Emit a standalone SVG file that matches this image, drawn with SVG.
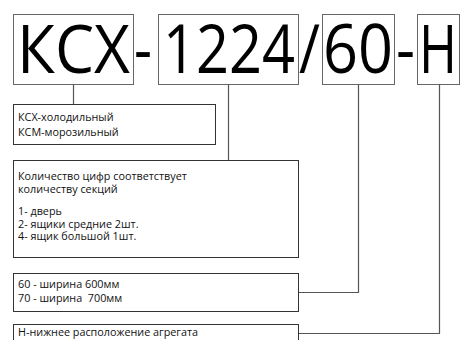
<svg xmlns="http://www.w3.org/2000/svg" width="461" height="340" viewBox="0 0 461 340">
<style>
.box{fill:none;stroke:#333;stroke-width:1}
.tbox{fill:none;stroke:#666;stroke-width:1}
.big{font-family:"Open Sans","Liberation Sans",sans-serif;font-size:67px;fill:#000}
.sm{font-family:"Open Sans","Liberation Sans",sans-serif;font-size:10.8px;fill:#111;white-space:pre}
.con{fill:none;stroke:#555;stroke-width:1.2}
</style>
<rect width="461" height="340" fill="#fff"/>
<g id="code-ksx">
<rect class="tbox" x="13.5" y="14.5" width="120" height="70"/>
<text class="big" x="17" y="73" textLength="113" lengthAdjust="spacingAndGlyphs">КСХ</text>
</g>
<g id="code-1224">
<rect class="tbox" x="158.5" y="14.5" width="140" height="70"/>
<text class="big" x="163" y="73" textLength="132" lengthAdjust="spacingAndGlyphs">1224</text>
</g>
<g id="code-60">
<rect class="tbox" x="322.5" y="14.5" width="72" height="70"/>
<text class="big" x="323" y="73" textLength="70" lengthAdjust="spacingAndGlyphs">60</text>
</g>
<g id="code-h">
<rect class="tbox" x="417.5" y="14.5" width="42" height="70"/>
<text class="big" x="419" y="73" textLength="38" lengthAdjust="spacingAndGlyphs">Н</text>
</g>
<g id="separators">
<text class="big" x="134" y="73" textLength="18" lengthAdjust="spacingAndGlyphs">-</text>
<text class="big" x="299" y="73" textLength="21" lengthAdjust="spacingAndGlyphs">/</text>
<text class="big" x="396" y="73" textLength="19" lengthAdjust="spacingAndGlyphs">-</text>
</g>
<g id="connectors">
<path class="con" d="M73.5 84.5V104.5"/>
<path class="con" d="M228.5 84.5V160.5"/>
<path class="con" d="M358.5 84.5V292.5H298.5"/>
<path class="con" d="M439.5 84.5V333.5H298.5"/>
</g>
<g id="desc-type">
<rect class="box" x="13.5" y="104.5" width="202" height="40"/>
<text class="sm" x="18" y="121">КСХ-холодильный</text>
<text class="sm" x="18" y="136">КСМ-морозильный</text>
</g>
<g id="desc-sections">
<rect class="box" x="13.5" y="160.5" width="285" height="97"/>
<text class="sm" x="18" y="180">Количество цифр соответствует</text>
<text class="sm" x="18" y="193">количеству секций</text>
<text class="sm" x="18" y="215">1- дверь</text>
<text class="sm" x="18" y="227.5">2- ящики средние 2шт.</text>
<text class="sm" x="18" y="240">4- ящик большой 1шт.</text>
</g>
<g id="desc-width">
<rect class="box" x="13.5" y="273.5" width="285" height="38"/>
<text class="sm" x="18" y="288">60 - ширина 600мм</text>
<text class="sm" x="18" y="302">70 - ширина  700мм</text>
</g>
<g id="desc-unit">
<rect class="box" x="13.5" y="324.5" width="285" height="30"/>
<text class="sm" x="18" y="336">Н-нижнее расположение агрегата</text>
</g>
</svg>
